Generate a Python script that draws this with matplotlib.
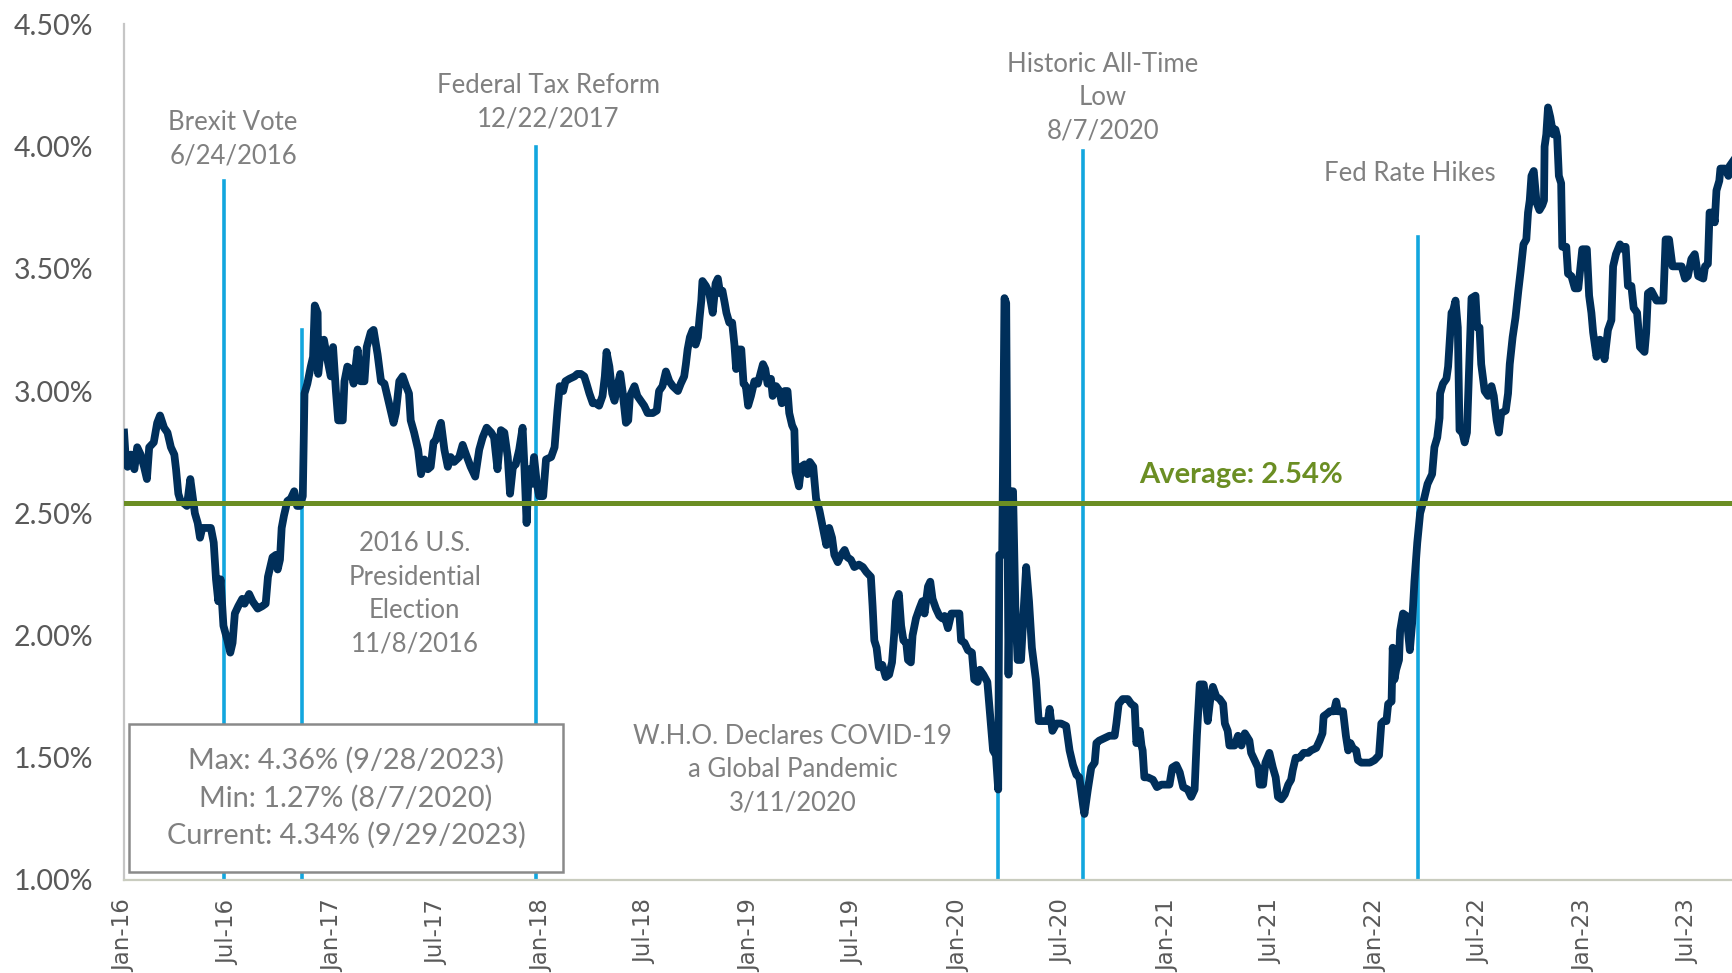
import pandas as pd
import matplotlib
matplotlib.use('Agg')
import matplotlib.pyplot as plt
import matplotlib.dates as mdates
from matplotlib.patches import Rectangle
from matplotlib.ticker import FuncFormatter, MultipleLocator


# yield series: days after 2016-01-01 and yield in %
days = [
    0, 3, 6, 12, 18, 23, 29, 35, 40, 44, 52, 58, 63, 70, 76, 82, 88, 91, 95, 99,
    105, 110, 116, 120, 124, 129, 133, 137, 143, 152, 157, 161, 165, 169, 174, 181, 186, 190, 194, 200,
    207, 211, 219, 225, 234, 242, 248, 252, 260, 266, 269, 273, 276, 280, 286, 292, 298, 303, 308, 313,
    316, 321, 327, 331, 334, 339, 340, 345, 350, 356, 362, 366, 371, 375, 383, 386, 391, 397, 402, 409,
    414, 421, 425, 432, 437, 444, 450, 456, 461, 467, 472, 476, 482, 488, 494, 499, 502, 508, 515, 520,
    526, 532, 537, 542, 546, 552,
    555, 561, 567, 572, 578, 587, 593, 599, 607, 615, 622, 628, 635, 643, 648, 654, 660, 666, 672, 676,
    681, 686, 692, 698, 701, 705, 709, 714, 718, 723, 727, 734, 739, 748, 754, 759, 763, 769, 773, 780,
    789, 794, 800, 806, 810, 815, 821, 827, 832, 838, 842, 845, 850, 855, 859, 864, 869, 873, 879, 883,
    886, 894, 899, 905, 911, 917, 926, 933, 937, 943, 949, 955, 961, 970, 975, 981, 984, 987, 991, 996,
    1001, 1005, 1008, 1011, 1013, 1019, 1025, 1031, 1036, 1040, 1044, 1048, 1052, 1055, 1060, 1065, 1069, 1072, 1077, 1081,
    1085, 1089, 1093, 1098, 1104, 1110,
    1119, 1123, 1127, 1133, 1136, 1142, 1148, 1152, 1157, 1162, 1165, 1170, 1174, 1176, 1182, 1186, 1192, 1197, 1201, 1207,
    1212, 1218, 1224, 1230, 1235, 1240, 1244, 1250, 1256, 1262, 1267, 1273, 1279, 1287, 1294, 1300, 1308, 1311, 1314, 1318,
    1322, 1328, 1334, 1340, 1345, 1349, 1352, 1357, 1361, 1365, 1370, 1373, 1378, 1381, 1387, 1393, 1398, 1402, 1408, 1412,
    1416, 1422, 1428, 1433, 1437, 1443, 1449, 1456, 1463, 1466, 1472, 1478, 1485, 1489, 1495, 1499, 1505, 1512, 1516, 1522,
    1527, 1531, 1533, 1538, 1542, 1545, 1549, 1553, 1557, 1561, 1565, 1571, 1576, 1580, 1585, 1590, 1597, 1602, 1609, 1618,
    1621, 1626, 1633, 1641, 1650, 1656, 1662, 1668, 1673, 1676,
    1680, 1682, 1688, 1694, 1700, 1703, 1708, 1717, 1726, 1735, 1738, 1742, 1749, 1758, 1764, 1770, 1773, 1779, 1782, 1784,
    1787, 1793, 1802, 1809, 1817, 1831, 1836, 1843, 1849, 1855, 1863, 1869, 1875, 1879, 1884, 1891, 1895, 1898, 1902, 1907,
    1913, 1919, 1925, 1928, 1933, 1936, 1945, 1951, 1957, 1963, 1971, 1974, 1980, 1986, 1989, 1995, 1999, 2006, 2012, 2017,
    2021, 2027, 2033, 2039, 2044, 2047, 2052, 2059, 2066, 2074, 2079, 2088, 2094, 2099, 2101, 2107, 2112, 2119, 2123, 2126,
    2135, 2140, 2144, 2148, 2152, 2158, 2161, 2167, 2182, 2190, 2198, 2202, 2206, 2211, 2214, 2220, 2222, 2225, 2228, 2233,
    2235, 2240, 2246, 2252, 2256, 2260, 2265, 2270, 2277, 2283,
    2287, 2291, 2295, 2300, 2304, 2305, 2310, 2316, 2319, 2322, 2325, 2328, 2332, 2336, 2339, 2344, 2348, 2352, 2357, 2360,
    2367, 2370, 2374, 2377, 2383, 2389, 2395, 2399, 2404, 2408, 2412, 2420, 2424, 2427, 2432, 2437, 2442, 2446, 2451, 2456,
    2459, 2462, 2465, 2469, 2474, 2479, 2484, 2487, 2488, 2491, 2494, 2498, 2503, 2507, 2510, 2513, 2517, 2519, 2526, 2529,
    2535, 2541, 2547, 2550, 2554, 2562, 2566, 2570, 2573, 2579, 2585, 2590, 2593, 2599, 2605, 2608, 2613, 2620, 2626, 2630,
    2634, 2640, 2644, 2650, 2655, 2663, 2666, 2669, 2675, 2684, 2696, 2700, 2706, 2712, 2719, 2728, 2734, 2739, 2745, 2751,
    2757, 2766, 2769, 2774, 2777, 2783, 2786, 2789, 2794, 2796, 2804, 2810, 2812, 2818,
]
yields = [
    2.83, 2.72, 2.69, 2.74, 2.68, 2.77, 2.74, 2.69, 2.64, 2.77, 2.79, 2.87, 2.90, 2.85, 2.83, 2.77, 2.74, 2.68, 2.58, 2.55,
    2.54, 2.53, 2.64, 2.57, 2.50, 2.46, 2.40, 2.44, 2.44, 2.44, 2.38, 2.23, 2.14, 2.23, 2.04, 1.98, 1.93, 1.97, 2.09, 2.12,
    2.15, 2.13, 2.17, 2.14, 2.11, 2.12, 2.13, 2.24, 2.32, 2.33, 2.27, 2.31, 2.44, 2.49, 2.55, 2.56, 2.59, 2.53, 2.53, 2.57,
    2.99, 3.03, 3.10, 3.14, 3.35, 3.32, 3.07, 3.18, 3.21, 3.13, 3.06, 3.18, 3.00, 2.88, 2.88, 3.04, 3.10, 3.09, 3.03, 3.17,
    3.04, 3.04, 3.18, 3.24, 3.25, 3.15, 3.04, 3.03, 2.98, 2.92, 2.87, 2.91, 3.04, 3.06, 3.02, 2.99, 2.88, 2.83, 2.76, 2.66,
    2.72, 2.68, 2.69, 2.79, 2.80, 2.85,
    2.87, 2.76, 2.69, 2.73, 2.71, 2.73, 2.78, 2.74, 2.69, 2.65, 2.76, 2.81, 2.85, 2.83, 2.81, 2.68, 2.84, 2.83, 2.73, 2.58,
    2.69, 2.70, 2.76, 2.85, 2.70, 2.46, 2.68, 2.62, 2.73, 2.62, 2.57, 2.57, 2.72, 2.73, 2.77, 2.92, 3.02, 3.00, 3.04, 3.05,
    3.06, 3.07, 3.07, 3.06, 3.03, 2.99, 2.95, 2.95, 2.94, 2.98, 3.06, 3.16, 3.10, 2.99, 2.96, 3.02, 3.07, 3.00, 2.87, 2.88,
    2.98, 3.02, 2.98, 2.96, 2.94, 2.91, 2.91, 2.92, 3.00, 3.02, 3.08, 3.04, 3.02, 3.00, 3.03, 3.06, 3.11, 3.17, 3.22, 3.25,
    3.19, 3.22, 3.30, 3.37, 3.45, 3.43, 3.40, 3.32, 3.44, 3.46, 3.40, 3.41, 3.36, 3.32, 3.28, 3.28, 3.19, 3.09, 3.17, 3.17,
    3.03, 3.02, 2.94, 2.98, 3.04, 3.03,
    3.11, 3.09, 3.03, 3.05, 2.98, 3.02, 3.00, 2.95, 3.00, 3.00, 2.91, 2.86, 2.84, 2.67, 2.61, 2.69, 2.70, 2.66, 2.71, 2.69,
    2.56, 2.51, 2.44, 2.37, 2.44, 2.40, 2.33, 2.30, 2.33, 2.35, 2.32, 2.31, 2.28, 2.29, 2.28, 2.26, 2.24, 2.12, 1.98, 1.95,
    1.87, 1.88, 1.83, 1.84, 1.89, 2.01, 2.14, 2.17, 2.04, 1.98, 1.97, 1.90, 1.89, 2.00, 2.07, 2.11, 2.14, 2.09, 2.20, 2.22,
    2.15, 2.11, 2.08, 2.07, 2.08, 2.03, 2.09, 2.09, 2.09, 1.98, 1.97, 1.94, 1.93, 1.82, 1.81, 1.86, 1.84, 1.81, 1.70, 1.53,
    1.51, 1.37, 2.33, 2.33, 3.38, 3.36, 1.84, 2.59, 2.59, 2.12, 1.90, 1.90, 2.12, 2.28, 2.14, 1.95, 1.82, 1.65, 1.65, 1.65,
    1.70, 1.61, 1.64, 1.64, 1.63, 1.53, 1.47, 1.43, 1.42, 1.37,
    1.30, 1.27, 1.37, 1.46, 1.48, 1.56, 1.57, 1.58, 1.59, 1.59, 1.64, 1.72, 1.74, 1.74, 1.72, 1.71, 1.56, 1.61, 1.55, 1.53,
    1.42, 1.42, 1.41, 1.38, 1.39, 1.39, 1.46, 1.47, 1.44, 1.38, 1.37, 1.34, 1.37, 1.59, 1.80, 1.80, 1.72, 1.65, 1.73, 1.79,
    1.75, 1.74, 1.72, 1.64, 1.61, 1.55, 1.55, 1.59, 1.55, 1.60, 1.57, 1.52, 1.49, 1.46, 1.39, 1.39, 1.48, 1.52, 1.46, 1.42,
    1.34, 1.33, 1.35, 1.39, 1.41, 1.45, 1.50, 1.50, 1.52, 1.52, 1.53, 1.54, 1.57, 1.60, 1.67, 1.68, 1.69, 1.69, 1.73, 1.69,
    1.69, 1.59, 1.53, 1.56, 1.54, 1.53, 1.49, 1.48, 1.48, 1.49, 1.51, 1.64, 1.65, 1.65, 1.72, 1.73, 1.95, 1.82, 1.86, 1.90,
    2.02, 2.09, 2.08, 1.94, 2.05, 2.22, 2.38, 2.50, 2.56, 2.62,
    2.64, 2.66, 2.77, 2.81, 2.89, 2.99, 3.03, 3.05, 3.10, 3.21, 3.32, 3.33, 3.37, 3.26, 2.84, 2.83, 2.79, 2.83, 3.18, 3.38,
    3.39, 3.26, 3.26, 3.11, 3.00, 2.98, 3.02, 2.98, 2.88, 2.83, 2.91, 2.92, 2.99, 3.11, 3.22, 3.30, 3.41, 3.49, 3.60, 3.62,
    3.73, 3.78, 3.88, 3.90, 3.77, 3.74, 3.76, 3.78, 4.00, 4.05, 4.16, 4.12, 4.05, 4.07, 4.04, 3.88, 3.85, 3.59, 3.59, 3.48,
    3.47, 3.42, 3.42, 3.49, 3.58, 3.58, 3.39, 3.32, 3.24, 3.14, 3.21, 3.18, 3.13, 3.25, 3.29, 3.51, 3.56, 3.60, 3.58, 3.59,
    3.43, 3.43, 3.34, 3.32, 3.18, 3.16, 3.24, 3.40, 3.41, 3.37, 3.37, 3.62, 3.62, 3.51, 3.51, 3.51, 3.46, 3.47, 3.54, 3.56,
    3.47, 3.46, 3.51, 3.52, 3.73, 3.73, 3.69, 3.82, 3.86, 3.91, 3.91, 3.88, 3.92, 3.94,
]

average = 2.54

event_dates = ['2016-06-24', '2016-11-08', '2017-12-22', '2020-03-11', '2020-08-07', '2022-03-16']
event_tops = [3.86, 3.25, 4.00, 1.40, 3.98, 3.63]

event_labels = ['Brexit Vote\n6/24/2016',
                'Federal Tax Reform\n12/22/2017',
                'Historic All-Time\nLow\n8/7/2020',
                'Fed Rate Hikes',
                '2016 U.S.\nPresidential\nElection\n11/8/2016',
                'W.H.O. Declares COVID-19\na Global Pandemic\n3/11/2020']
label_dates = ['2016-07-10', '2018-01-13', '2020-09-10', '2022-03-02', '2017-05-24', '2019-03-17']
label_levels = [4.03, 4.18, 4.20, 3.89, 2.17, 1.45]

stats_text = 'Max: 4.36% (9/28/2023)\nMin: 1.27% (8/7/2020)\nCurrent: 4.34% (9/29/2023)'

NAVY = '#002f5a'
CYAN = '#12a6de'
GREEN = '#6b8e23'
GRAY_TXT = '#808080'
TICK_TXT = '#595959'

dates = pd.Timestamp('2016-01-01') + pd.to_timedelta(days, unit='D')

fig = plt.figure(figsize=(17.33, 9.73), dpi=100)
ax = fig.add_axes([0.0716, 0.0956, 0.9284, 0.8794])

# event markers
for d, top in zip(event_dates, event_tops):
    ax.plot([pd.Timestamp(d), pd.Timestamp(d)], [1.0, top], color=CYAN, lw=2.6, zorder=2)

ax.plot(dates, yields, color=NAVY, lw=5.6, zorder=3, solid_joinstyle='round')
ax.axhline(average, color=GREEN, lw=3.6, zorder=4)

ax.text(pd.Timestamp('2021-05-10'), 2.655, 'Average: 2.54%', color=GREEN, fontsize=21,
        fontweight='bold', family='Lato', ha='center', va='center', zorder=5)

for txt, d, lvl in zip(event_labels, label_dates, label_levels):
    ax.text(pd.Timestamp(d), lvl, txt, color=GRAY_TXT, fontsize=18.5, family='Lato',
            ha='center', va='center', multialignment='center', linespacing=1.42, zorder=5)

ax.set_ylim(1.0, 4.5)
ax.set_xlim(pd.Timestamp('2016-01-01'), pd.Timestamp('2023-09-19'))
ax.yaxis.set_major_locator(MultipleLocator(0.5))
ax.yaxis.set_major_formatter(FuncFormatter(lambda v, p: '%.2f%%' % v))
ax.xaxis.set_major_locator(mdates.MonthLocator(bymonth=[1, 7]))
ax.xaxis.set_major_formatter(mdates.DateFormatter('%b-%y'))

ax.tick_params(axis='y', length=0, pad=22, labelsize=20.5, labelcolor=TICK_TXT)
ax.tick_params(axis='x', length=0, pad=14, labelsize=16.5, labelcolor=TICK_TXT, rotation=90)
for lab in ax.get_yticklabels():
    lab.set_family('Lato')
for lab in ax.get_xticklabels():
    lab.set_family('DejaVu Sans')

for s in ['top', 'right']:
    ax.spines[s].set_visible(False)
ax.spines['left'].set_color('#c6c6c6')
ax.spines['left'].set_linewidth(1.6)
ax.spines['bottom'].set_color('#c9ccbf')
ax.spines['bottom'].set_linewidth(1.6)

# stats box
box = Rectangle((0.0744, 0.1038), 0.2504, 0.1521, transform=fig.transFigure,
                facecolor='white', edgecolor='#8a8a8a', lw=1.8, zorder=10)
fig.patches.append(box)
fig.text(0.1997, 0.1799, stats_text, color=GRAY_TXT, fontsize=20.8, family='Lato',
         ha='center', va='center', multialignment='center', linespacing=1.5, zorder=11)

fig.savefig('out.png', dpi=100)
